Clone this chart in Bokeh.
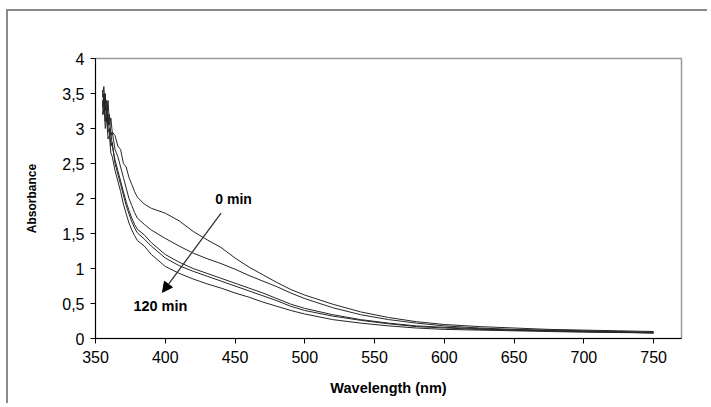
from bokeh.plotting import figure
from bokeh.models import Range1d, FixedTicker, Arrow, NormalHead, Label
from bokeh.embed import file_html
from bokeh.resources import INLINE

wavelength = [355, 356, 357, 358, 359, 360, 361, 362, 364, 366, 368, 370, 372, 374, 376, 378,
              380, 385, 390, 400, 410, 420, 430, 440, 450, 460, 470, 480, 490, 500,
              520, 540, 560, 580, 600, 625, 650, 675, 700, 725, 750]

abs_0min = [3.55, 3.35, 3.5, 3.2, 3.4, 3.05, 3.15, 2.95, 2.9, 2.75, 2.7, 2.5, 2.45, 2.3, 2.2, 2.1,
            2.02, 1.92, 1.86, 1.79, 1.68, 1.53, 1.41, 1.30, 1.15, 1.02, 0.91, 0.80, 0.70, 0.62,
            0.49, 0.38, 0.30, 0.24, 0.20, 0.17, 0.15, 0.13, 0.12, 0.11, 0.10]
abs_30min = [3.45, 3.6, 3.25, 3.4, 3.05, 3.2, 2.9, 2.95, 2.7, 2.6, 2.45, 2.3, 2.15, 2.0, 1.9, 1.8,
             1.72, 1.63, 1.55, 1.43, 1.32, 1.22, 1.14, 1.07, 0.99, 0.90, 0.82, 0.74, 0.65, 0.57,
             0.44, 0.34, 0.27, 0.22, 0.18, 0.15, 0.13, 0.12, 0.11, 0.10, 0.09]
abs_60min = [3.4, 3.2, 3.45, 3.1, 3.2, 2.9, 2.95, 2.75, 2.55, 2.4, 2.25, 2.1, 1.95, 1.83, 1.72, 1.63,
             1.56, 1.48, 1.37, 1.20, 1.09, 1.00, 0.93, 0.86, 0.79, 0.72, 0.65, 0.57, 0.49, 0.43,
             0.34, 0.27, 0.22, 0.18, 0.16, 0.14, 0.12, 0.11, 0.10, 0.09, 0.08]
abs_90min = [3.3, 3.5, 3.1, 3.3, 2.95, 3.0, 2.75, 2.8, 2.5, 2.35, 2.2, 2.05, 1.9, 1.78, 1.67, 1.58,
             1.51, 1.42, 1.32, 1.15, 1.04, 0.96, 0.89, 0.82, 0.75, 0.68, 0.61, 0.54, 0.46, 0.40,
             0.32, 0.26, 0.21, 0.17, 0.15, 0.13, 0.12, 0.11, 0.10, 0.09, 0.08]
abs_120min = [3.2, 3.4, 3.0, 3.15, 2.85, 2.9, 2.65, 2.6, 2.4, 2.25, 2.1, 1.92, 1.78, 1.65, 1.55, 1.47,
              1.40, 1.32, 1.20, 1.03, 0.93, 0.85, 0.78, 0.72, 0.65, 0.59, 0.52, 0.46, 0.40, 0.35,
              0.27, 0.22, 0.18, 0.15, 0.13, 0.12, 0.11, 0.10, 0.09, 0.085, 0.08]

x_ticks = [350, 400, 450, 500, 550, 600, 650, 700, 750]
y_ticks = [0, 0.5, 1, 1.5, 2, 2.5, 3, 3.5, 4]
y_tick_labels = ["0", "0,5", "1", "1,5", "2", "2,5", "3", "3,5", "4"]

FONT = "Liberation Sans"

p = figure(width=701, height=394, output_backend="svg", toolbar_location=None,
           x_range=Range1d(350, 770), y_range=Range1d(0, 4),
           min_border_left=87, min_border_right=28, min_border_top=47, min_border_bottom=67)
p.styles = {"border-top": "2px solid #8a8a8a", "border-left": "2px solid #8a8a8a",
            "margin-left": "6px", "margin-top": "9px"}

p.xgrid.visible = False
p.ygrid.visible = False
p.outline_line_color = "#9a9a9a"
p.outline_line_width = 1.5
p.background_fill_color = "white"
p.border_fill_color = "white"

for ax in (p.xaxis[0], p.yaxis[0]):
    ax.axis_line_color = "black"
    ax.major_tick_line_color = "black"
    ax.major_tick_out = 5
    ax.major_tick_in = 0
    ax.minor_tick_line_color = None
    ax.major_label_text_font = FONT
    ax.major_label_text_font_size = "16px"
    ax.major_label_text_color = "black"
    ax.axis_label_text_font = FONT
    ax.axis_label_text_font_style = "bold"
    ax.axis_label_text_color = "black"

p.xaxis.ticker = FixedTicker(ticks=x_ticks)
p.yaxis.ticker = FixedTicker(ticks=y_ticks)
p.yaxis.major_label_overrides = {t: l for t, l in zip(y_ticks, y_tick_labels)}
p.xaxis.axis_label = "Wavelength (nm)"
p.yaxis.axis_label = "Absorbance"
p.xaxis.axis_label_text_font_size = "14.5px"
p.yaxis.axis_label_text_font_size = "12px"
p.xaxis.major_label_standoff = 7
p.yaxis.major_label_standoff = 6
p.xaxis.axis_label_standoff = 14
p.yaxis.axis_label_standoff = 20

for series in (abs_0min, abs_30min, abs_60min, abs_90min, abs_120min):
    p.line(wavelength, series, line_color="#262626", line_width=1)

p.add_layout(Arrow(end=NormalHead(size=10, fill_color="black", line_color="black"),
                   x_start=440, y_start=1.79, x_end=398, y_end=0.66,
                   line_color="#333333", line_width=1.3))
p.add_layout(Label(x=449, y=2.0, text="0 min", text_font=FONT, text_font_style="bold",
                   text_font_size="14px", text_align="center", text_baseline="middle",
                   text_color="black"))
p.add_layout(Label(x=396.5, y=0.46, text="120 min", text_font=FONT, text_font_style="bold",
                   text_font_size="14.5px", text_align="center", text_baseline="middle",
                   text_color="black"))

open("out.html", "w").write(file_html(p, INLINE))
